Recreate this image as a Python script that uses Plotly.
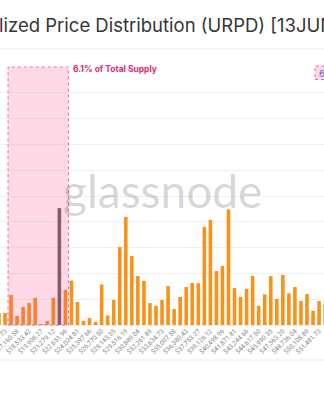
import plotly.graph_objects as go

# ---- data -----------------------------------------------------------------
bins = [
    "$15,101.31", "$15,787.73", "$16,474.15", "$17,160.58", "$17,847.00",
    "$18,533.42", "$19,219.85", "$19,906.27", "$20,592.69", "$21,279.12",
    "$21,965.54", "$22,651.96", "$23,338.39", "$24,024.81", "$24,711.23",
    "$25,397.66", "$26,084.08", "$26,770.50", "$27,456.93", "$28,143.35",
    "$28,829.77", "$29,516.19", "$30,202.62", "$30,889.04", "$31,575.46",
    "$32,261.89", "$32,948.31", "$33,634.73", "$34,321.16", "$35,007.58",
    "$35,694.00", "$36,380.43", "$37,066.85", "$37,753.27", "$38,439.70",
    "$39,126.12", "$39,812.54", "$40,498.96", "$41,185.39", "$41,871.81",
    "$42,558.23", "$43,244.66", "$43,931.08", "$44,617.50", "$45,303.93",
    "$45,990.35", "$46,676.77", "$47,363.20", "$48,049.62", "$48,736.04",
    "$49,422.47", "$50,108.89", "$50,795.31", "$51,481.73", "$52,168.16",
    "$52,854.58",
]
# BTC supply held in each realized-price bucket
supply_btc = [
    46500, 46500, 116000, 35000, 70000, 85000, 105000, 1500, 15500, 105000,
    453000, 136000, 172000, 89000, 15500, 27000, 12000, 157000, 37000, 97000,
    302000, 419000, 267000, 190000, 171000, 85000, 74000, 97000, 151000, 62000,
    109000, 147000, 163000, 162000, 380000, 407000, 209000, 229000, 448000, 143000,
    109000, 140000, 190000, 74000, 119000, 189000, 101000, 194000, 123000, 147000,
    93000, 120000, 55000, 93000, 80000, 70000,
]
tick_labels = [
    "$15,787.73", "$17,160.58", "$18,533.42", "$19,906.27", "$21,279.12",
    "$22,651.96", "$24,024.81", "$25,397.66", "$26,770.50", "$28,143.35",
    "$29,516.19", "$30,889.04", "$32,261.89", "$33,634.73", "$35,007.58",
    "$36,380.43", "$37,753.27", "$39,126.12", "$40,498.96", "$41,871.81",
    "$43,244.66", "$44,617.50", "$45,990.35", "$47,363.20", "$48,736.04",
    "$50,108.89", "$51,481.73", "$52,854.58",
]
current_bin = "$21,965.54"
range_start_bin = "$16,474.15"
range_end_bin = "$22,651.96"
range_label = "6.1% of Total Supply"
title_text = "UTXO Realized Price Distribution (URPD) [13JUN2022]"

# ---- styling ----------------------------------------------------------------
ORANGE = "#f7931a"
CURRENT = "#6e6068"
colors = [CURRENT if b == current_bin else ORANGE for b in bins]

W, H = 324, 400
ML, MR, MT, MB = 0, 0, 67, 75
plot_h = H - MT - MB


def py(px):
    """pixel row -> paper y"""
    return (H - MB - px) / plot_h


fig = go.Figure()
fig.add_trace(go.Bar(x=bins, y=supply_btc, marker=dict(color=colors, line=dict(width=0)),
                     hoverinfo="x+y"))

i0 = bins.index(range_start_bin) - 0.5
i1 = bins.index(range_end_bin) + 0.5

shapes = [
    # highlighted range
    dict(type="rect", xref="x", yref="paper", x0=i0, x1=i1, y0=0, y1=1,
         fillcolor="rgba(255,64,129,0.2)", line=dict(color="#ee6aa7", width=1, dash="dot"),
         layer="above"),
    # header separator
    dict(type="line", xref="paper", yref="paper", x0=0, x1=1, y0=py(49), y1=py(49),
         line=dict(color="#ececec", width=1)),
    # footer separator
    dict(type="line", xref="paper", yref="paper", x0=0, x1=1, y0=py(360), y1=py(360),
         line=dict(color="#ececec", width=1)),
    # legend box at right edge
    dict(type="rect", xref="paper", yref="paper", x0=315 / W, x1=1.3, y0=py(79.5), y1=py(66),
         fillcolor="rgba(255,64,129,0.2)", line=dict(color="#ee6aa7", width=1, dash="dot")),
]

annotations = [
    dict(text=title_text, xref="paper", yref="paper", x=0, y=py(25), xanchor="left",
         yanchor="middle", xshift=-93.5, showarrow=False,
         font=dict(family="Inter", size=18.5, color="#363636")),
    dict(text="glassnode", xref="paper", yref="paper", x=0.5, y=py(190), xanchor="center",
         yanchor="middle", showarrow=False,
         font=dict(family="Lato", size=46, color="rgba(0,0,0,0.17)")),
    dict(text="<b>" + range_label + "</b>", xref="x", yref="paper", x=i1, y=py(69),
         xanchor="left", yanchor="middle", xshift=3, showarrow=False,
         font=dict(family="Inter", size=8.5, color="#e0287a")),
    dict(text="6.1%", xref="paper", yref="paper", x=317 / W, y=py(73), xanchor="left",
         yanchor="middle", showarrow=False,
         font=dict(family="Inter", size=9, color="#5a5ad6")),
]

bin_px = 6.04
r0 = 1 - 5 / bin_px
fig.update_layout(
    width=W, height=H,
    margin=dict(l=ML, r=MR, t=MT, b=MB, autoexpand=False),
    paper_bgcolor="white", plot_bgcolor="white",
    showlegend=False, bargap=0.4,
    shapes=shapes, annotations=annotations,
    xaxis=dict(type="category", range=[r0, r0 + W / bin_px], autorange=False,
               automargin=False, tickmode="array",
               tickvals=tick_labels, ticktext=tick_labels, tickangle=-45,
               tickfont=dict(family="Roboto", size=6.5, color="#8a8a8a"),
               showgrid=False, showline=False, ticks="", ticklen=0),
    yaxis=dict(range=[0, 1000000], dtick=100000, showticklabels=False, automargin=False,
               gridcolor="#f0f0f0", gridwidth=1, zeroline=True, zerolinecolor="#f0f0f0"),
)

fig.write_html("out.html")
